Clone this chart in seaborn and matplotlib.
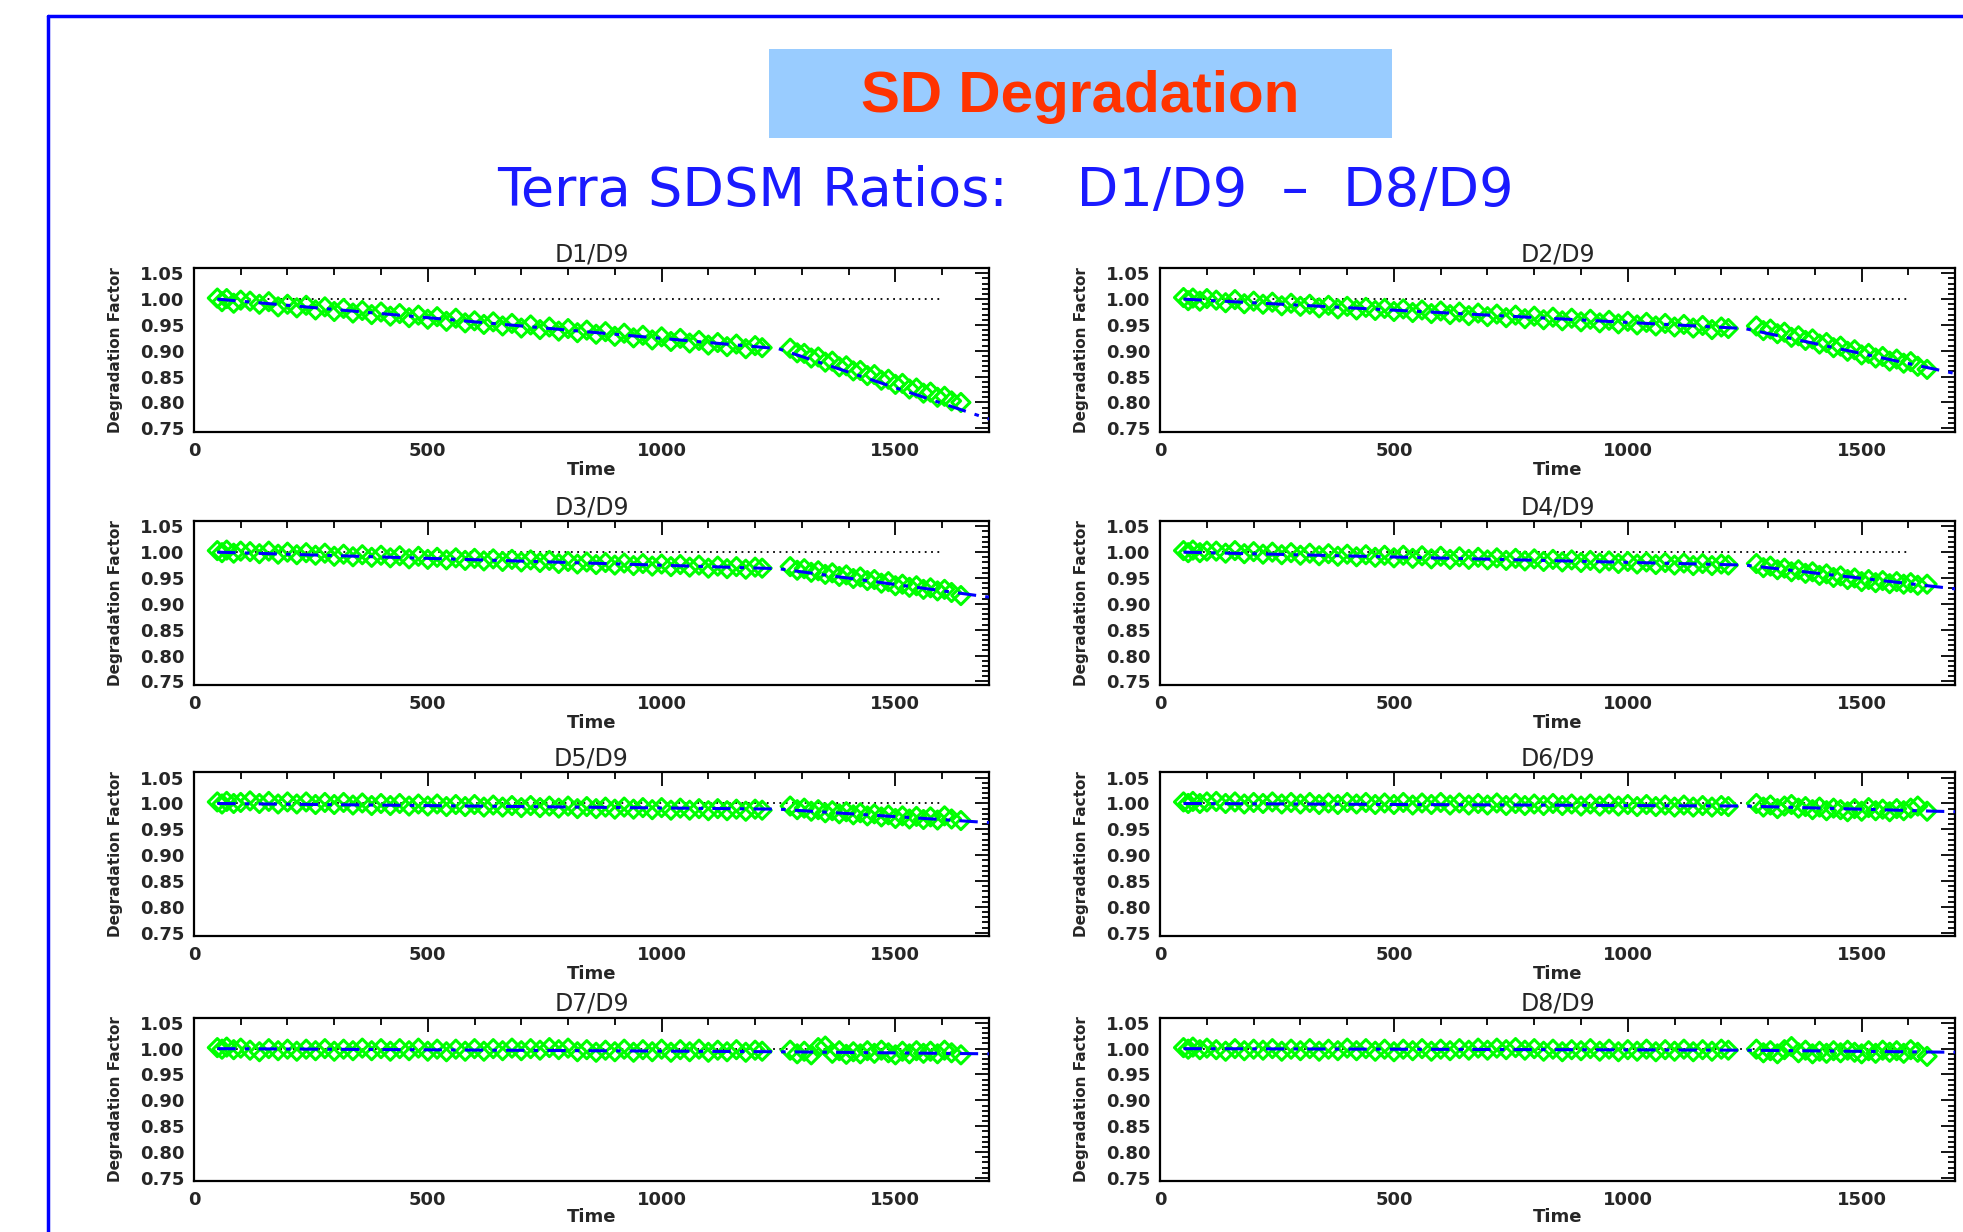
import matplotlib
matplotlib.use("Agg")
import matplotlib.pyplot as plt
from matplotlib.lines import Line2D
from matplotlib.patches import Rectangle
from matplotlib.ticker import MultipleLocator, FormatStrFormatter
import seaborn as sns

sns.set_style("white")
plt.rcParams['font.family'] = ['DejaVu Sans']

# Time of each SDSM measurement (two operating periods)
time = [50, 60, 70, 85, 100, 120, 140, 160, 180, 200,
        220, 240, 260, 280, 300, 320, 340, 360, 380, 400,
        420, 440, 460, 480, 500, 520, 540, 560, 580, 600,
        620, 640, 660, 680, 700, 720, 740, 760, 780, 800,
        820, 840, 860, 880, 900, 920, 940, 960, 980, 1000,
        1020, 1040, 1060, 1080, 1100, 1120, 1140, 1160, 1180, 1200, 1215,
        1275, 1290, 1305, 1320, 1335, 1350, 1365, 1380, 1395, 1410,
        1425, 1440, 1455, 1470, 1485, 1500, 1515, 1530, 1545, 1560,
        1575, 1590, 1605, 1620, 1640]

d1_vals = [1.002, 0.995, 1.001, 0.992, 0.998, 0.996, 0.990, 0.995, 0.985, 0.990,
           0.983, 0.988, 0.979, 0.985, 0.976, 0.982, 0.973, 0.978, 0.970, 0.975,
           0.967, 0.972, 0.964, 0.969, 0.961, 0.966, 0.957, 0.963, 0.954, 0.958,
           0.951, 0.956, 0.948, 0.953, 0.944, 0.950, 0.941, 0.946, 0.938, 0.943,
           0.935, 0.940, 0.932, 0.937, 0.928, 0.934, 0.925, 0.930, 0.921, 0.927,
           0.918, 0.924, 0.915, 0.920, 0.911, 0.916, 0.908, 0.913, 0.904, 0.910, 0.906,
           0.905, 0.896, 0.895, 0.886, 0.888, 0.878, 0.880, 0.869, 0.871, 0.861,
           0.862, 0.852, 0.854, 0.843, 0.845, 0.835, 0.837, 0.826, 0.828, 0.818,
           0.820, 0.810, 0.812, 0.803, 0.800]

d2_vals = [1.003, 0.997, 1.002, 0.996, 1.001, 0.998, 0.993, 0.999, 0.991, 0.996,
           0.990, 0.994, 0.987, 0.992, 0.986, 0.990, 0.983, 0.988, 0.981, 0.986,
           0.979, 0.984, 0.978, 0.982, 0.976, 0.981, 0.974, 0.979, 0.972, 0.977,
           0.970, 0.975, 0.968, 0.973, 0.966, 0.971, 0.964, 0.969, 0.962, 0.967,
           0.960, 0.965, 0.958, 0.963, 0.956, 0.961, 0.954, 0.959, 0.952, 0.957,
           0.950, 0.955, 0.948, 0.953, 0.946, 0.951, 0.944, 0.949, 0.941, 0.946, 0.943,
           0.948, 0.939, 0.942, 0.933, 0.936, 0.926, 0.929, 0.920, 0.923, 0.913,
           0.916, 0.906, 0.909, 0.899, 0.902, 0.892, 0.895, 0.886, 0.889, 0.880,
           0.884, 0.876, 0.879, 0.870, 0.864]

d3_vals = [1.003, 0.999, 1.004, 0.998, 1.002, 1.001, 0.997, 1.002, 0.996, 1.000,
           0.995, 0.999, 0.994, 0.998, 0.992, 0.996, 0.991, 0.995, 0.990, 0.994,
           0.989, 0.993, 0.987, 0.992, 0.986, 0.990, 0.985, 0.989, 0.984, 0.988,
           0.983, 0.987, 0.982, 0.986, 0.981, 0.985, 0.980, 0.984, 0.978, 0.982,
           0.977, 0.981, 0.976, 0.980, 0.975, 0.979, 0.974, 0.978, 0.973, 0.977,
           0.972, 0.976, 0.971, 0.975, 0.969, 0.973, 0.968, 0.972, 0.967, 0.971, 0.969,
           0.972, 0.965, 0.968, 0.961, 0.964, 0.957, 0.960, 0.953, 0.956, 0.949,
           0.952, 0.945, 0.947, 0.940, 0.943, 0.935, 0.938, 0.932, 0.935, 0.928,
           0.931, 0.925, 0.928, 0.922, 0.916]

d4_vals = [1.003, 0.999, 1.004, 0.999, 1.002, 1.002, 0.998, 1.003, 0.997, 1.001,
           0.996, 1.000, 0.995, 0.999, 0.994, 0.998, 0.993, 0.997, 0.992, 0.996,
           0.991, 0.995, 0.990, 0.994, 0.989, 0.994, 0.988, 0.993, 0.987, 0.992,
           0.986, 0.991, 0.986, 0.990, 0.985, 0.989, 0.984, 0.988, 0.983, 0.987,
           0.982, 0.986, 0.981, 0.985, 0.980, 0.984, 0.979, 0.983, 0.978, 0.982,
           0.977, 0.981, 0.976, 0.980, 0.975, 0.979, 0.974, 0.978, 0.974, 0.977, 0.975,
           0.978, 0.970, 0.973, 0.966, 0.969, 0.962, 0.966, 0.959, 0.962, 0.955,
           0.958, 0.951, 0.954, 0.947, 0.950, 0.943, 0.947, 0.941, 0.945, 0.939,
           0.943, 0.938, 0.941, 0.936, 0.938]

d5_vals = [1.003, 0.999, 1.004, 1.000, 1.002, 1.005, 1.000, 1.004, 0.999, 1.003,
           0.999, 1.003, 0.998, 1.002, 0.998, 1.002, 0.997, 1.001, 0.996, 1.000,
           0.996, 1.000, 0.995, 0.999, 0.995, 0.999, 0.994, 0.998, 0.994, 0.998,
           0.993, 0.997, 0.993, 0.996, 0.992, 0.996, 0.992, 0.995, 0.991, 0.995,
           0.990, 0.994, 0.990, 0.993, 0.989, 0.993, 0.989, 0.992, 0.988, 0.992,
           0.987, 0.991, 0.987, 0.990, 0.986, 0.990, 0.986, 0.989, 0.985, 0.989, 0.987,
           0.995, 0.988, 0.991, 0.985, 0.988, 0.982, 0.986, 0.980, 0.984, 0.978,
           0.982, 0.976, 0.980, 0.974, 0.978, 0.971, 0.976, 0.970, 0.975, 0.969,
           0.974, 0.968, 0.976, 0.970, 0.967]

d6_vals = [1.003, 1.000, 1.004, 1.000, 1.003, 1.004, 1.000, 1.003, 0.999, 1.002,
           1.000, 1.003, 0.999, 1.002, 0.999, 1.002, 0.998, 1.001, 0.998, 1.002,
           0.999, 1.002, 0.998, 1.001, 0.998, 1.002, 0.997, 1.001, 0.998, 1.002,
           0.997, 1.001, 0.997, 1.000, 0.997, 1.001, 0.996, 1.000, 0.996, 0.999,
           0.996, 1.000, 0.996, 0.999, 0.995, 0.999, 0.995, 0.999, 0.995, 0.998,
           0.994, 0.998, 0.994, 0.997, 0.993, 0.997, 0.993, 0.996, 0.993, 0.996, 0.994,
           1.000, 0.993, 0.997, 0.990, 0.995, 0.998, 0.991, 0.994, 0.988, 0.993,
           0.986, 0.991, 0.988, 0.984, 0.990, 0.985, 0.992, 0.986, 0.989, 0.984,
           0.990, 0.986, 0.991, 0.995, 0.985]

d7_vals = [1.002, 0.999, 1.003, 0.998, 1.001, 0.997, 0.994, 1.000, 0.996, 0.999,
           0.995, 0.999, 0.996, 1.000, 0.995, 0.999, 0.996, 1.001, 0.996, 1.000,
           0.995, 1.000, 0.996, 1.001, 0.995, 0.999, 0.994, 0.999, 0.995, 1.000,
           0.995, 1.000, 0.996, 1.001, 0.996, 1.000, 0.997, 1.002, 0.998, 1.001,
           0.994, 0.998, 0.993, 0.997, 0.994, 0.999, 0.993, 0.998, 0.994, 0.999,
           0.993, 0.998, 0.994, 0.999, 0.993, 0.997, 0.994, 0.998, 0.993, 0.997, 0.995,
           0.997, 0.990, 0.995, 0.988, 1.002, 1.005, 0.991, 0.996, 0.989, 0.994,
           0.990, 0.996, 0.991, 0.997, 0.992, 0.988, 0.995, 0.990, 0.996, 0.991,
           0.995, 0.990, 0.997, 0.992, 0.988]

d8_vals = [1.002, 0.999, 1.003, 0.998, 1.001, 0.998, 0.995, 1.000, 0.996, 0.999,
           0.997, 1.000, 0.995, 0.999, 0.996, 1.000, 0.995, 0.999, 0.996, 1.001,
           0.996, 1.000, 0.995, 0.999, 0.994, 0.999, 0.996, 1.000, 0.995, 0.999,
           0.996, 1.000, 0.997, 1.001, 0.997, 1.001, 0.998, 1.002, 0.997, 1.000,
           0.995, 0.999, 0.994, 0.998, 0.996, 1.000, 0.995, 0.999, 0.994, 0.998,
           0.995, 0.999, 0.994, 0.998, 0.995, 0.999, 0.994, 0.998, 0.995, 0.999, 0.997,
           0.999, 0.992, 0.996, 0.990, 0.998, 1.004, 0.992, 0.997, 0.990, 0.995,
           0.991, 0.996, 0.992, 0.997, 0.993, 0.990, 0.996, 0.991, 0.997, 0.993,
           0.996, 0.991, 0.998, 0.993, 0.985]

# Piecewise trend fits (start, change-over, end)
fit_time = [50, 1250, 1700]
d1_fit = [1.000, 0.904, 0.768]
d2_fit = [1.000, 0.943, 0.856]
d3_fit = [1.000, 0.968, 0.913]
d4_fit = [1.000, 0.975, 0.929]
d5_fit = [1.000, 0.989, 0.963]
d6_fit = [1.000, 0.995, 0.984]
d7_fit = [1.000, 0.994, 0.990]
d8_fit = [1.000, 0.997, 0.993]

# Reference level at 1.0
ref_time = [50, 1600]
ref_level = [1.0, 1.0]

titles = ["D1/D9", "D2/D9", "D3/D9", "D4/D9", "D5/D9", "D6/D9", "D7/D9", "D8/D9"]
all_vals = [d1_vals, d2_vals, d3_vals, d4_vals, d5_vals, d6_vals, d7_vals, d8_vals]
all_fits = [d1_fit, d2_fit, d3_fit, d4_fit, d5_fit, d6_fit, d7_fit, d8_fit]

fig = plt.figure(figsize=(19.63, 12.32), dpi=100)
fig.patch.set_facecolor("white")

# Slide frame
fig.add_artist(Line2D([0.0245, 0.0245], [0.0, 0.987], color="#0000ff", lw=2.5))
fig.add_artist(Line2D([0.0245, 1.0], [0.987, 0.987], color="#0000ff", lw=2.5))

# Title box
fig.add_artist(Rectangle((0.3917, 0.888), 0.3174, 0.0722, transform=fig.transFigure,
                         facecolor="#99ccff", edgecolor="none"))
fig.text(0.5504, 0.921, "SD Degradation", color="#ff3300", fontsize=42,
         fontweight="bold", family="Liberation Sans", ha="center", va="center")

fig.text(0.512, 0.8446, "Terra SDSM Ratios:    D1/D9  \u2013  D8/D9", color="#1a1aff",
         fontsize=39, ha="center", va="center")

col_left = [0.0988, 0.591]
row_bottom = [0.6494, 0.444, 0.240, 0.041]
ax_w = 0.405
ax_h = 0.133

for i in range(8):
    ax = fig.add_axes([col_left[i % 2], row_bottom[i // 2], ax_w, ax_h])

    sns.lineplot(x=ref_time, y=ref_level, ax=ax, color="black", lw=1.3,
                 linestyle=(0, (1, 2.5)), estimator=None, sort=False)
    sns.scatterplot(x=time, y=all_vals[i], ax=ax, marker="D", s=85,
                    facecolor="none", edgecolor="#00ff00", linewidth=2.2,
                    legend=False, zorder=3)
    sns.lineplot(x=fit_time, y=all_fits[i], ax=ax, color="#0000ff", lw=2.2,
                 linestyle=(0, (6, 3, 1.5, 3)), estimator=None, sort=False,
                 zorder=4)

    ax.set_xlim(0, 1700)
    ax.set_ylim(0.743, 1.06)
    ax.xaxis.set_major_locator(MultipleLocator(500))
    ax.xaxis.set_minor_locator(MultipleLocator(100))
    ax.yaxis.set_major_locator(MultipleLocator(0.05))
    ax.yaxis.set_minor_locator(MultipleLocator(0.01))
    ax.yaxis.set_major_formatter(FormatStrFormatter("%.2f"))
    ax.tick_params(which="both", direction="in", top=True, right=True,
                   color="black", width=1.3)
    ax.tick_params(which="major", length=10, labelsize=13, pad=7)
    ax.tick_params(which="minor", length=5)
    for lab in ax.get_xticklabels() + ax.get_yticklabels():
        lab.set_fontweight("bold")
    for sp in ax.spines.values():
        sp.set_color("black")
        sp.set_linewidth(1.6)

    ax.set_title(titles[i], fontsize=17, pad=5)
    ax.set_xlabel("Time", fontsize=13, fontweight="bold",
                  labelpad=1 if i < 6 else -1)
    ax.set_ylabel("Degradation Factor", fontsize=11, fontweight="bold", labelpad=12)

fig.savefig("out.png", dpi=100, facecolor="white")
